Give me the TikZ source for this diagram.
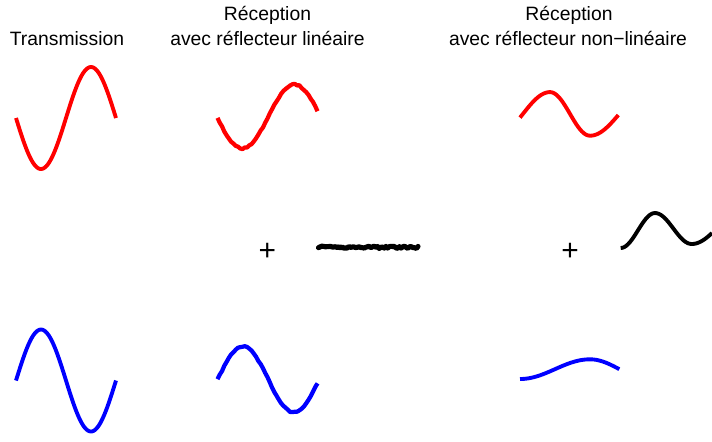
\documentclass[tikz,border=0pt]{standalone}
\usepackage{fontspec}
\setmainfont{Liberation Sans}
\usetikzlibrary{positioning}
\tikzset{
  ttl/.style  = {font=\fontsize{11}{13}\selectfont, anchor=base, inner sep=0pt},
  pls/.style  = {font=\fontsize{17}{19}\selectfont, inner sep=0pt},
  sig/.style  = {line width=2.2pt, line join=round},
  nsig/.style = {line width=2.4pt, line join=round},
  bsig/.style = {line width=2.9pt, line join=round, line cap=round},
}

\begin{document}
\begin{tikzpicture}[x=0.02cm, y=-0.02cm]
  \pgfmathsetseed{42}
  \useasboundingbox (0,0) rectangle (712,441);
  % titles
  \node[ttl] (tx)   at (67,45)      {Transmission};
  \node[ttl] (rxl)  at (267.5,20.7) {Réception};
  \node[ttl] (rxla) at (267.5,45)   {avec réflecteur linéaire};
  \node[ttl] (rxn)  at (569,20.7)   {Réception};
  \node[ttl] (rxna) at (568,45)     {avec réflecteur non−linéaire};
  \node[pls] (p1) at (267.3,252) {+};
  \node[pls] (p2) at (570,252)   {+};
  % transmission
  \draw[sig, red]  plot[domain=16:116, samples=80] (\x, {118 + 51*sin(3.6*(\x-16))});
  \draw[sig, blue] plot[domain=16:116, samples=80] (\x, {380.5 - 51*sin(3.6*(\x-16))});
  % linear reflector
  \draw[nsig, red]  plot[domain=217.5:317.5, samples=45] (\x, {116.4 + 32*sin(3.4 + 3.466*(\x-217.5)) + 0.7*rand});
  \draw[nsig, blue] plot[domain=217.5:317.5, samples=45] (\x, {379.5 - 33*sin(3.54*(\x-217.5)) + 0.7*rand});
  \draw[bsig] plot[domain=318.5:418, samples=60] (\x, {247.3 + 1.2*rand});
  % non-linear reflector
  \draw[sig, red] plot[domain=520:550, samples=20] (\x, {113.9 - 21.8*sin(-9.7 + 3.3233*(\x-520))})
    -- plot[domain=550:590, samples=25] (\x, {113.9 - 21.8*sin(90 + 4.5*(\x-550))})
    -- plot[domain=590:618.3, samples=20] (\x, {113.9 - 21.8*sin(270 + 3.0742*(\x-590))});
  \draw[sig] plot[domain=620.7:655, samples=20] (\x, {230.5 + 17.5*cos(5.2478*(\x-620.7))})
    -- plot[domain=655:691.7, samples=20] (\x, {228.5 + 15.5*cos(180 + 4.9046*(\x-655))})
    -- plot[domain=691.7:712, samples=15] (\x, {228.5 + 15.5*cos(3.5961*(\x-691.7))});
  \draw[sig, blue] plot[domain=520:590, samples=35] (\x, {369.15 + 9.85*cos(2.5714*(\x-520))})
    -- plot[domain=590:619.3, samples=15] (\x, {369.15 + 9.85*cos(180 + 3.0717*(\x-590))});
\end{tikzpicture}
\end{document}
